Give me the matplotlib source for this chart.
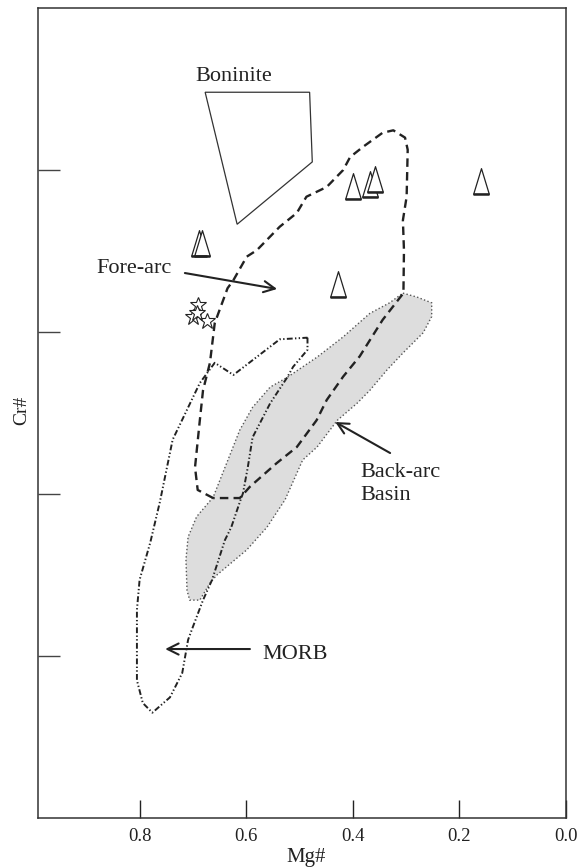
import matplotlib.pyplot as plt
from matplotlib.path import Path

plt.rcParams['font.family'] = ['Liberation Serif', 'DejaVu Serif']

# Boninite field (Mg#, Cr#)
boninite_mg = [0.677, 0.481, 0.476, 0.617]
boninite_cr = [0.896, 0.896, 0.810, 0.733]

# Fore-arc peridotite field
forearc_mg = [0.662, 0.691, 0.696, 0.687, 0.681, 0.668, 0.659, 0.635, 0.624, 0.599,
              0.580, 0.537, 0.505, 0.487, 0.449, 0.418, 0.405, 0.380, 0.344, 0.324,
              0.302, 0.297, 0.299, 0.306, 0.304, 0.305, 0.344, 0.387, 0.418, 0.449,
              0.468, 0.505, 0.543, 0.593, 0.612, 0.662]
forearc_cr = [0.395, 0.405, 0.433, 0.491, 0.528, 0.562, 0.611, 0.654, 0.664, 0.693,
              0.701, 0.730, 0.747, 0.767, 0.779, 0.800, 0.816, 0.829, 0.846, 0.849,
              0.840, 0.825, 0.767, 0.738, 0.701, 0.648, 0.615, 0.570, 0.545, 0.516,
              0.491, 0.458, 0.438, 0.409, 0.395, 0.395]

# MORB field
morb_mg = [0.485, 0.485, 0.512, 0.523, 0.555, 0.588, 0.597, 0.606, 0.612, 0.628,
           0.640, 0.664, 0.681, 0.700, 0.709, 0.720, 0.743, 0.776, 0.794, 0.805,
           0.805, 0.800, 0.780, 0.762, 0.738, 0.687, 0.659, 0.624, 0.537, 0.485]
morb_cr = [0.593, 0.578, 0.557, 0.544, 0.512, 0.470, 0.433, 0.401, 0.390, 0.359,
           0.343, 0.294, 0.269, 0.236, 0.220, 0.179, 0.149, 0.130, 0.142, 0.170,
           0.257, 0.294, 0.340, 0.390, 0.467, 0.537, 0.562, 0.547, 0.591, 0.593]

# Back-arc basin field
backarc_mg = [0.306, 0.279, 0.252, 0.252, 0.268, 0.306, 0.336, 0.368, 0.392, 0.429,
              0.467, 0.494, 0.527, 0.561, 0.599, 0.637, 0.655, 0.668, 0.687, 0.706,
              0.711, 0.713, 0.709, 0.693, 0.662, 0.612, 0.588, 0.555, 0.523, 0.467,
              0.418, 0.368, 0.331]
backarc_cr = [0.648, 0.643, 0.636, 0.619, 0.599, 0.574, 0.553, 0.528, 0.512, 0.491,
              0.458, 0.442, 0.393, 0.359, 0.331, 0.310, 0.300, 0.290, 0.269, 0.269,
              0.281, 0.319, 0.347, 0.372, 0.396, 0.479, 0.507, 0.532, 0.544, 0.569,
              0.594, 0.623, 0.636]

# spinel samples
tri_mg = [0.688, 0.6835, 0.400, 0.368, 0.358, 0.160, 0.427]
tri_cr = [0.710, 0.710, 0.780, 0.783, 0.789, 0.786, 0.659]
star_mg = [0.691, 0.700, 0.673, 0.693]
star_cr = [0.633, 0.619, 0.613, 0.623]

# tall open triangle and its heavier base
tri_path = Path([(0, 1), (-0.61, -1), (0.61, -1), (0, 1)],
                [Path.MOVETO, Path.LINETO, Path.LINETO, Path.CLOSEPOLY])
base_path = Path([(-0.61, -1), (0.61, -1)], [Path.MOVETO, Path.LINETO])

ink = '#222222'

fig = plt.figure(figsize=(5.8, 8.68), dpi=100)
ax = fig.add_axes([38 / 580, 50 / 868, 528 / 580, 810 / 868])

ax.fill(backarc_mg, backarc_cr, facecolor='#dddddd', edgecolor='#555555',
        linewidth=1.0, linestyle=':', zorder=1)
ax.plot(forearc_mg, forearc_cr, color=ink, linewidth=1.7,
        dashes=(3.6, 2.2), zorder=3)
ax.plot(morb_mg, morb_cr, color=ink, linewidth=1.4,
        dashes=(3.0, 1.2, 0.7, 1.2, 0.7, 1.2), zorder=3)
ax.fill(boninite_mg, boninite_cr, facecolor='none', edgecolor='#333333',
        linewidth=0.9, zorder=2)

ax.plot(tri_mg, tri_cr, linestyle='none', marker=tri_path, markersize=18.5,
        markerfacecolor='white', markeredgecolor=ink, markeredgewidth=0.9, zorder=4)
ax.plot(tri_mg, tri_cr, linestyle='none', marker=base_path, markersize=18.5,
        markeredgecolor=ink, markeredgewidth=1.8, zorder=5)
ax.plot(star_mg, star_cr, linestyle='none', marker='*', markersize=12,
        markerfacecolor='white', markeredgecolor=ink, markeredgewidth=0.8, zorder=4)

# field labels with pointers
ax.text(0.624, 0.910, 'Boninite', fontsize=16, ha='center', va='baseline', color=ink)
ax.text(0.882, 0.673, 'Fore-arc', fontsize=16, ha='left', va='baseline', color=ink)
ax.text(0.3865, 0.421, 'Back-arc', fontsize=16, ha='left', va='baseline', color=ink)
ax.text(0.3865, 0.3926, 'Basin', fontsize=16, ha='left', va='baseline', color=ink)
ax.text(0.5704, 0.1963, 'MORB', fontsize=16, ha='left', va='baseline', color=ink)

arrow = dict(arrowstyle='->', color=ink, lw=1.5, mutation_scale=20,
             shrinkA=0, shrinkB=0)
ax.annotate('', xy=(0.542, 0.6531), xytext=(0.715, 0.6728), arrowprops=arrow)
ax.annotate('', xy=(0.433, 0.4889), xytext=(0.330, 0.4506), arrowprops=arrow)
ax.annotate('', xy=(0.752, 0.2086), xytext=(0.593, 0.2086), arrowprops=arrow)

ax.set_xlim(0.9906, 0.0)
ax.set_ylim(0.0, 1.0)
ax.set_xticks([0.8, 0.6, 0.4, 0.2, 0.0])
ax.set_xticklabels(['0.8', '0.6', '0.4', '0.2', '0.0'])
ax.set_yticks([0.2, 0.4, 0.6, 0.8])
ax.set_yticklabels([])
ax.tick_params(axis='x', direction='in', length=13, width=1.0, color=ink,
               labelsize=13.5, pad=7, labelcolor=ink)
ax.tick_params(axis='y', direction='in', length=16, width=1.0, color='#444444')
for s in ax.spines.values():
    s.set_color('#333333')
    s.set_linewidth(1.1)

ax.set_xlabel('Mg#', fontsize=15, color=ink)
ax.xaxis.set_label_coords(0.508, -0.037)
fig.text(22 / 580, 1 - 410 / 868, 'Cr#', fontsize=14, rotation=90,
         ha='center', va='center', color=ink)

fig.savefig('out.png', dpi=100)
